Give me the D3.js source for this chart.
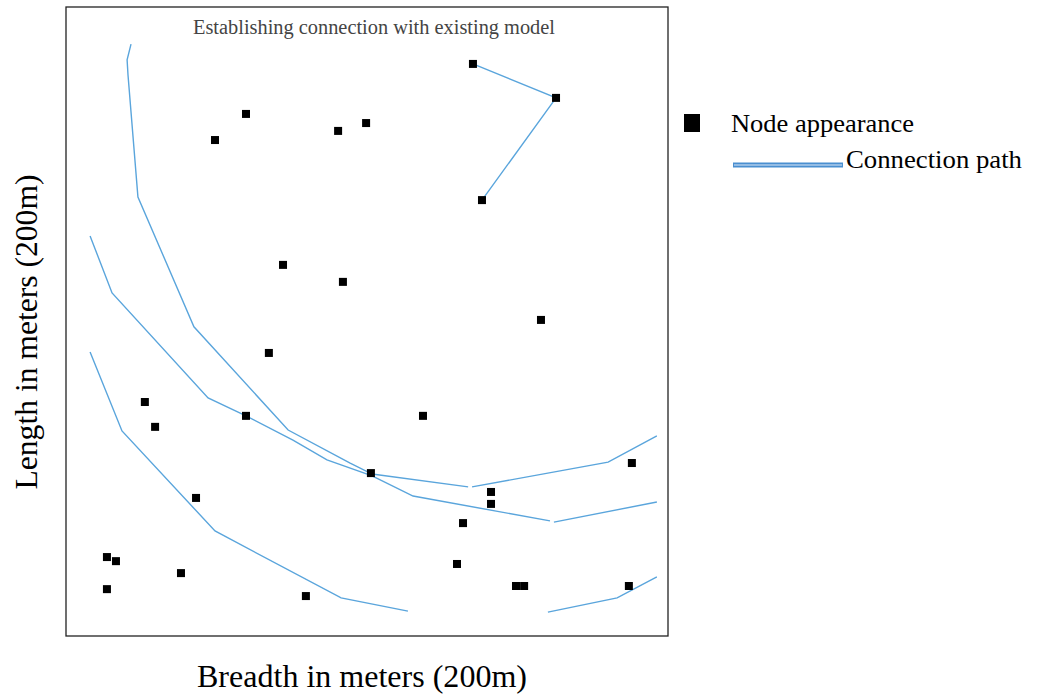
<!DOCTYPE html>
<html>
<head>
<meta charset="utf-8">
<script src="https://cdn.jsdelivr.net/npm/d3@7"></script>
<style>
  body { margin: 0; background: #fff; }
  text { font-family: "Liberation Serif", "Times New Roman", serif; }
</style>
</head>
<body>
<script>
// field is 200m x 200m, positions in meters
const nodeX = [135.2, 162.8, 138.2, 59.8, 49.5, 90.4, 99.7, 72.1, 92.0, 157.8,
               67.4, 26.2, 29.6, 59.8, 118.6, 101.3, 188.0, 141.2, 141.2, 131.9,
               43.2, 13.6, 16.6, 13.6, 38.2, 79.7, 129.9, 149.5, 152.2, 187.0];
const nodeY = [181.9, 171.1, 138.6, 166.0, 157.7, 160.6, 163.1, 118.0, 112.6, 100.5,
               90.0, 74.4, 66.5, 70.0, 70.0, 51.8, 55.0, 45.8, 42.0, 35.9,
               43.9, 25.1, 23.8, 14.9, 20.0, 12.7, 22.9, 15.9, 15.9, 15.9];

// connection paths, each as [x, y] points in meters
const pathA1 = [[21.6,188.2],[20.3,183.2],[20.6,178.4],[23.9,139.6],[42.5,98.3],[73.8,65.5],[94.4,55.0],[101.7,51.5],[133.6,47.4]];
const pathA2 = [[134.9,47.4],[180.1,55.3],[196.3,63.6]];
const pathB1 = [[8.0,127.2],[15.3,109.1],[47.2,75.7],[59.8,70.0],[75.4,62.3],[86.7,56.0],[101.7,50.9],[115.3,44.5],[160.8,36.6]];
const pathB2 = [[162.1,36.2],[196.3,42.6]];
const pathC  = [[8.0,90.3],[18.6,65.2],[49.5,33.4],[91.4,12.1],[113.6,7.9]];
const pathD  = [[160.1,7.6],[183.1,12.1],[196.3,18.8]];
const pathE  = [[135.2,181.9],[162.8,171.1],[138.2,138.6]];
const paths = [pathA1, pathA2, pathB1, pathB2, pathC, pathD, pathE];

const title = "Establishing connection with existing model";
const xLabel = "Breadth in meters (200m)";
const yLabel = "Length in meters (200m)";
const legendLabels = ["Node appearance", "Connection path"];

const width = 1040, height = 695;
const lineColor = "#5aa5dc";

const svg = d3.select("body").append("svg")
  .attr("width", width)
  .attr("height", height);

const x = d3.scaleLinear().domain([0, 200]).range([66, 668]);
const y = d3.scaleLinear().domain([0, 200]).range([636, 7]);

// plot frame
svg.append("rect")
  .attr("x", x(0)).attr("y", y(200))
  .attr("width", x(200) - x(0)).attr("height", y(0) - y(200))
  .attr("fill", "none").attr("stroke", "#222").attr("stroke-width", 1.3);

svg.append("text")
  .attr("x", 374).attr("y", 34)
  .attr("text-anchor", "middle")
  .attr("font-size", 20).attr("fill", "#444")
  .attr("textLength", 362).attr("lengthAdjust", "spacingAndGlyphs")
  .text(title);

const line = d3.line().x(d => x(d[0])).y(d => y(d[1]));

svg.selectAll("path.conn")
  .data(paths)
  .join("path")
  .attr("class", "conn")
  .attr("d", line)
  .attr("fill", "none")
  .attr("stroke", lineColor)
  .attr("stroke-width", 1.4);

const s = 8;
svg.selectAll("rect.node")
  .data(nodeX.map((v, i) => [v, nodeY[i]]))
  .join("rect")
  .attr("class", "node")
  .attr("x", d => x(d[0]) - s / 2)
  .attr("y", d => y(d[1]) - s / 2)
  .attr("width", s).attr("height", s)
  .attr("fill", "#000");

// axis titles
svg.append("text")
  .attr("x", 362).attr("y", 687)
  .attr("text-anchor", "middle")
  .attr("font-size", 32)
  .attr("textLength", 330).attr("lengthAdjust", "spacingAndGlyphs")
  .text(xLabel);

svg.append("text")
  .attr("transform", "translate(37,332) rotate(-90)")
  .attr("text-anchor", "middle")
  .attr("font-size", 32)
  .attr("textLength", 315).attr("lengthAdjust", "spacingAndGlyphs")
  .text(yLabel);

// legend
svg.append("rect")
  .attr("x", 684).attr("y", 114).attr("width", 16).attr("height", 18)
  .attr("fill", "#000");
svg.append("text")
  .attr("x", 731).attr("y", 132)
  .attr("font-size", 26)
  .attr("textLength", 183).attr("lengthAdjust", "spacingAndGlyphs")
  .text(legendLabels[0]);

svg.append("line")
  .attr("x1", 733).attr("x2", 843).attr("y1", 165).attr("y2", 165)
  .attr("stroke", "#4a8fd0").attr("stroke-width", 5);
svg.append("line")
  .attr("x1", 734).attr("x2", 842).attr("y1", 165).attr("y2", 165)
  .attr("stroke", "#dbe9f7").attr("stroke-width", 1.2);
svg.append("text")
  .attr("x", 846).attr("y", 168)
  .attr("font-size", 26)
  .attr("textLength", 176).attr("lengthAdjust", "spacingAndGlyphs")
  .text(legendLabels[1]);
</script>
</body>
</html>
